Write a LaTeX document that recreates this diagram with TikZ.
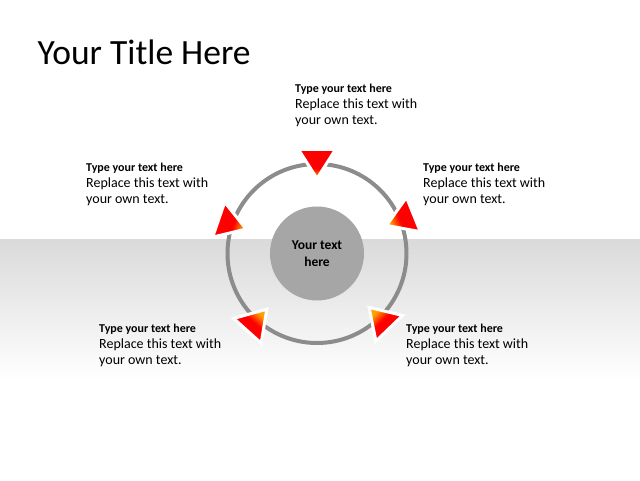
\documentclass[tikz,border=0pt]{standalone}
\usepackage{fontspec}
\setmainfont{Carlito}
\usetikzlibrary{calc}
\definecolor{bandgray}{HTML}{DADADA}
\definecolor{ringgray}{HTML}{8C8C8C}
\definecolor{hubgray}{HTML}{A6A6A6}
\definecolor{tipcolor}{HTML}{FFA000}
\pgfdeclareverticalshading{pointershade}{100bp}{color(0bp)=(tipcolor); color(27bp)=(tipcolor); color(42bp)=(red); color(100bp)=(red)}
\tikzset{
caption/.style = { anchor = base west, align = left, inner sep = 0pt, font = \fontsize{14}{16}\selectfont },
ring/.style = { draw = ringgray, line width = 4pt },
hub/.style = { circle, fill = hubgray, minimum size = 94pt, inner sep = 0pt, align = center, font = \bfseries\fontsize{13.5}{17}\selectfont },
pointer/.style = { draw = white, line width = 3pt, line join = miter, shading = pointershade },
}
\newcommand{\headline}{\textbf{\fontsize{12}{15}\selectfont Type your text here}}

\begin{document}
\begin{tikzpicture}[x = 1pt, y = 1pt]
    \useasboundingbox (0, 0) rectangle (640, 480);
    \fill[white] (0, 0) rectangle (640, 480);
    \shade[top color = bandgray, bottom color = white] (0, 100) rectangle (640, 240);
    \node[anchor = base west, inner sep = 0pt, font = \fontsize{35.5}{40}\selectfont] (title) at (37.5, 415) {Your Title Here};
    \coordinate (c) at (317, 226.5);
    \draw[ring] (c) circle (89.5);
    \node[hub] (hub) at (c) {Your text\\here};
    % pointers round the ring
    \foreach \ang in {90, 22, -46, -132, 161}{
        \pgfmathsetmacro{\shang}{\ang - 90}
        \shadedraw[pointer, shading angle = \shang] ($(c) + (\ang:104) + (\ang + 90:18.5)$) -- ($(c) + (\ang:104) + (\ang - 90:18.5)$) -- ($(c) + (\ang:75)$) -- cycle;
    }
    \node[caption] (top) at (295, 355) {\headline\\Replace this text with\\your own text.};
    \node[caption] (upleft) at (86, 276) {\headline\\Replace this text with\\your own text.};
    \node[caption] (upright) at (423, 276) {\headline\\Replace this text with\\your own text.};
    \node[caption] (lowleft) at (99, 116) {\headline\\Replace this text with\\your own text.};
    \node[caption] (lowright) at (406, 116) {\headline\\Replace this text with\\your own text.};
\end{tikzpicture}
\end{document}
